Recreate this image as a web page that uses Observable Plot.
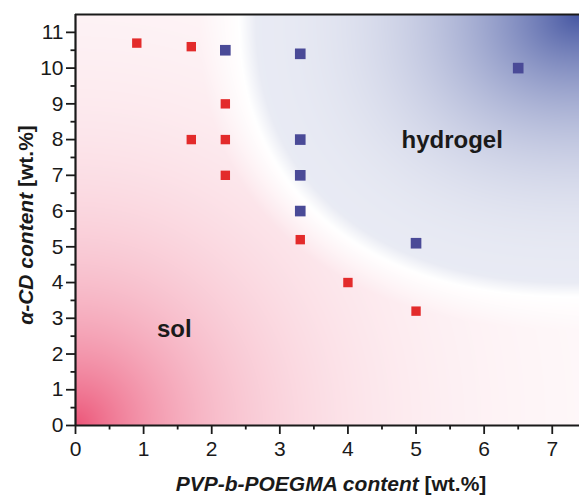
<!DOCTYPE html>
<html>
<head>
<meta charset="utf-8">
<script src="https://cdn.jsdelivr.net/npm/d3@7"></script>
<script src="https://cdn.jsdelivr.net/npm/@observablehq/plot@0.6"></script>
<style>
  html, body { margin: 0; padding: 0; background: #fff; }
  #chart svg { display: block; }
</style>
</head>
<body>
<div id="chart"></div>
<script>
// ---- data ----
const solX = [0.9, 1.7, 1.7, 2.2, 2.2, 2.2, 3.3, 4.0, 5.0];
const solY = [10.7, 10.6, 8.0, 9.0, 8.0, 7.0, 5.2, 4.0, 3.2];
const gelX = [2.2, 3.3, 3.3, 3.3, 3.3, 5.0, 6.5];
const gelY = [10.5, 10.4, 8.0, 7.0, 6.0, 5.1, 10.0];
const yTicks = [0, 1, 2, 3, 4, 5, 6, 7, 8, 9, 10, 11];
const xTicks = [0, 1, 2, 3, 4, 5, 6, 7];
const regionLabels = ["sol", "hydrogel"];
const regionX = [1.45, 5.53];
const regionY = [2.68, 7.99];
const xTitle = ["PVP-b-POEGMA content", " [wt.%]"];
const yTitle = ["\u03B1-CD content", " [wt.%]"];

const xMax = 7.4, yMax = 11.5;

const solPts = solX.map((x, i) => ({x, y: solY[i]}));
const gelPts = gelX.map((x, i) => ({x, y: gelY[i]}));
const labels = regionLabels.map((t, i) => ({t, x: regionX[i], y: regionY[i]}));

// background shading: red from lower-left, blue from upper-right
const W = 504, H = 411;
function shade(x, y) {
  const px = x / xMax * W, py = y / yMax * H;
  const dx = Math.max(0, W - px) / 340, dy = Math.max(0, H - py) / 282;
  const p = 2.3;
  const r = Math.pow(Math.pow(dx, p) + Math.pow(dy, p), 1 / p);
  let blue = 0;
  if (r < 1) {
    const t = Math.min(1, (1 - r) / 0.05);
    blue = (0.12 + 0.88 * Math.pow(1 - r, 2.4)) * t;
  }
  const d = Math.hypot(px, py);
  let red = 0.76 * Math.exp(-d / 135) + 0.08 * Math.exp(-d / 380);
  const s = Math.max(0, Math.min(1, (r - 1) / 0.12));
  red *= s;
  return blue - red;
}
const cRed = "#e8345e", cBlue = "#4556a2";
const interp = t => t < 0.5 ? d3.interpolateRgb(cRed, "#ffffff")(t * 2) : d3.interpolateRgb("#ffffff", cBlue)((t - 0.5) * 2);

const font = "Liberation Sans, Arial, Helvetica, sans-serif";

const plot = Plot.plot({
  width: 579,
  height: 495,
  marginLeft: 75,
  marginRight: 0,
  marginTop: 14,
  marginBottom: 70,
  style: {fontFamily: font, background: "#fff", overflow: "visible"},
  x: {domain: [0, xMax]},
  y: {domain: [0, yMax]},
  color: {type: "linear", domain: [-1, 1], interpolate: interp},
  marks: [
    Plot.raster({fill: shade, x1: 0, x2: xMax, y1: 0, y2: yMax, pixelSize: 1}),
    Plot.dot(solPts, {x: "x", y: "y", symbol: "square", r: 5.3, fill: "#e32b2b", stroke: "none"}),
    Plot.dot(gelPts, {x: "x", y: "y", symbol: "square", r: 6.0, fill: "#4a4a97", stroke: "none"}),
    Plot.text(labels, {x: "x", y: "y", text: "t", fontSize: 24, fontWeight: "bold", fill: "#1a1a1a"}),
    Plot.axisY(yTicks, {tickSize: 9, tickPadding: 3, fontSize: 21, label: null, stroke: "#1a1a1a", strokeWidth: 1.8, fill: "#1a1a1a"}),
    Plot.axisY(d3.range(0.5, 11.5, 1), {tickSize: 4.5, text: null, label: null, stroke: "#1a1a1a", strokeWidth: 1.8}),
    Plot.axisX(xTicks, {tickSize: 9, tickPadding: 7, fontSize: 21, label: null, stroke: "#1a1a1a", strokeWidth: 1.8, fill: "#1a1a1a"}),
    Plot.axisX(d3.range(0.5, 7.5, 1), {tickSize: 4.5, text: null, label: null, stroke: "#1a1a1a", strokeWidth: 1.8}),
    Plot.ruleX([0], {stroke: "#1a1a1a", strokeWidth: 2.2}),
    Plot.ruleY([0, yMax], {stroke: "#1a1a1a", strokeWidth: 2.2})
  ]
});

const svg = d3.select(plot);
const xt = svg.append("text")
  .attr("x", 331).attr("y", 491)
  .attr("text-anchor", "middle")
  .attr("font-family", font).attr("font-size", 21).attr("font-weight", "bold")
  .attr("fill", "#1a1a1a");
xt.append("tspan").attr("font-style", "italic").text(xTitle[0]);
xt.append("tspan").text(xTitle[1]);

const yt = svg.append("text")
  .attr("transform", "translate(33,225) rotate(-90)")
  .attr("text-anchor", "middle")
  .attr("font-family", font).attr("font-size", 21).attr("font-weight", "bold")
  .attr("fill", "#1a1a1a");
yt.append("tspan").attr("font-style", "italic").text(yTitle[0]);
yt.append("tspan").text(yTitle[1]);

document.getElementById("chart").appendChild(plot);
</script>
</body>
</html>
